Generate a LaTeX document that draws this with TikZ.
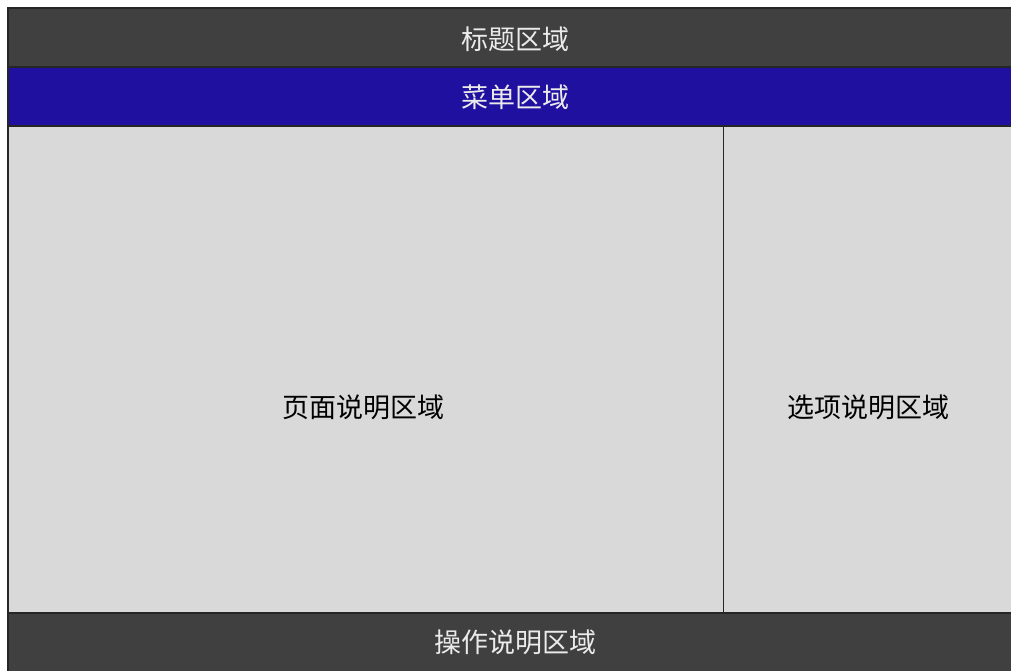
\documentclass[tikz,border=0pt]{standalone}
\usepackage{fontspec}
\newfontfamily\cjk{Noto Sans CJK SC}
\definecolor{bardark}{HTML}{404040}
\definecolor{barblue}{HTML}{2010A0}
\definecolor{panel}{HTML}{D9D9D9}
\begin{document}
\begin{tikzpicture}[x=1pt,y=-1pt,
  region/.style={draw=black!85,line width=1.2pt,inner sep=0pt,outer sep=0pt},
  darkbar/.style={region,fill=bardark},
  bluebar/.style={region,fill=barblue},
  panelbox/.style={region,fill=panel},
  lbl/.style={font=\cjk\fontsize{27}{30}\selectfont,inner sep=0pt},
  lightlbl/.style={lbl,text=white!92!black}]
\useasboundingbox (0,0) rectangle (1011,670);
\fill[white] (0,0) rectangle (1011,670);
\node[darkbar,minimum width=1012pt,minimum height=59pt,anchor=north west] (title) at (8,8) {};
\node[bluebar,minimum width=1012pt,minimum height=59pt,anchor=north west] (menu) at (8,67) {};
\node[panelbox,minimum width=715.5pt,minimum height=487pt,anchor=north west] (page) at (8,126) {};
\node[panelbox,minimum width=296.5pt,minimum height=487pt,anchor=north west] (option) at (723.5,126) {};
\node[darkbar,minimum width=1012pt,minimum height=62pt,anchor=north west] (help) at (8,613) {};
\node[lightlbl] (titletext) at (515,39) {标题区域};
\node[lightlbl] (menutext) at (515,97) {菜单区域};
\node[lbl] (pagetext) at (363,407) {页面说明区域};
\node[lbl] (optiontext) at (868,407) {选项说明区域};
\node[lightlbl] (helptext) at (515,642) {操作说明区域};
\end{tikzpicture}
\end{document}
